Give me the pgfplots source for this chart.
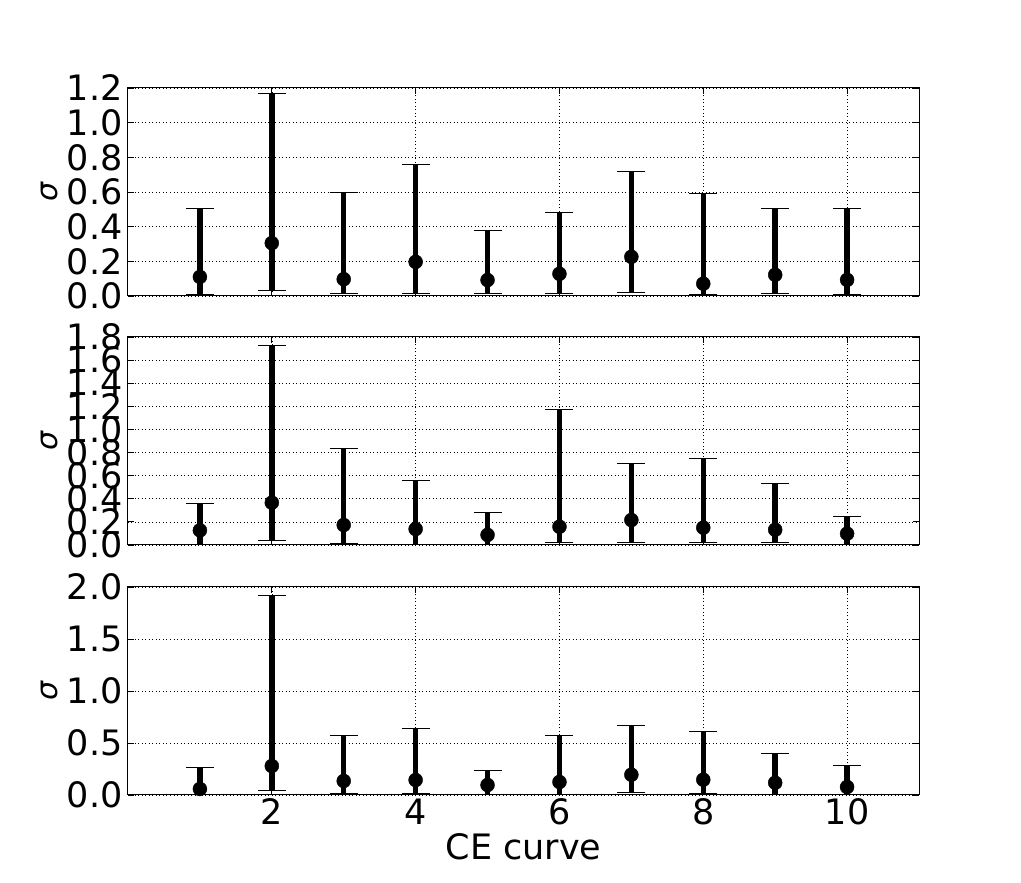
\documentclass[border=0pt]{standalone}
\usepackage{pgfplots}
\pgfplotsset{compat=1.18}
\usepackage{pgfplotstable}
\usepackage{fontspec}
\setmainfont{DejaVu Sans}
\pgfplotstableread{
x y up lo
1 0.110 0.507 0.011
2 0.305 1.168 0.034
3 0.097 0.595 0.016
4 0.197 0.757 0.016
5 0.092 0.381 0.016
6 0.128 0.485 0.017
7 0.226 0.717 0.023
8 0.071 0.590 0.010
9 0.122 0.503 0.017
10 0.093 0.508 0.010
}\topdata
\pgfplotstableread{
x y up lo
1 0.127 0.363 0.009
2 0.366 1.727 0.037
3 0.173 0.833 0.017
4 0.138 0.562 0.009
5 0.087 0.285 0.009
6 0.158 1.176 0.020
7 0.216 0.709 0.020
8 0.150 0.753 0.020
9 0.132 0.536 0.020
10 0.098 0.251 0.009
}\middata
\pgfplotstableread{
x y up lo
1 0.058 0.269 0.010
2 0.279 1.923 0.048
3 0.135 0.570 0.019
4 0.144 0.638 0.019
5 0.096 0.240 0.010
6 0.125 0.570 0.010
7 0.195 0.666 0.022
8 0.147 0.615 0.019
9 0.118 0.397 0.010
10 0.077 0.288 0.010
}\botdata
\pgfplotsset{
  panel/.style={
    anchor=south west,
    width=791pt, height=208pt, scale only axis,
    xmin=0, xmax=11,
    xtick={2,4,6,8,10},
    grid=major,
    major grid style={black, line width=0.6pt, dash pattern=on 1pt off 2.5pt},
    axis line style={black, line width=1pt},
    tick style={black, line width=0.8pt},
    major tick length=6pt,
    tick align=inside,
    xtick pos=both, ytick pos=both,
    /pgf/number format/assume math mode=true,
    yticklabel style={/pgf/number format/fixed, /pgf/number format/fixed zerofill, /pgf/number format/precision=1, xshift=-2pt},
    xticklabel style={/pgf/number format/fixed, /pgf/number format/precision=0},
    ticklabel style={font=\fontsize{35}{38}\selectfont},
    ylabel={\itshape σ},
    every axis y label/.style={at={(-78pt,104pt)}, rotate=90, anchor=center, font=\fontsize{30}{36}\selectfont},
    ymin=0,
  },
  ebar/.style={
    black, only marks, mark=*, mark size=7pt, mark options={fill=black, draw=black},
    error bars/.cd, y dir=both, y explicit,
    error bar style={line width=5.5pt, black},
    error mark options={line width=0.8pt, mark size=14pt, black, rotate=90},
  },
}
\begin{document}
\begin{tikzpicture}
\path[use as bounding box] (0,0) rectangle (1021pt,883pt);
\begin{axis}[panel, at={(128pt,587pt)}, ymax=1.2, ytick={0,0.2,...,1.21}, xticklabels={}]
\addplot[ebar] table[x=x, y=y, y error plus expr=\thisrow{up}-\thisrow{y}, y error minus expr=\thisrow{y}-\thisrow{lo}] {\topdata};
\end{axis}
\begin{axis}[panel, at={(128pt,338pt)}, ymax=1.8, ytick={0,0.2,...,1.81}, xticklabels={}]
\addplot[ebar] table[x=x, y=y, y error plus expr=\thisrow{up}-\thisrow{y}, y error minus expr=\thisrow{y}-\thisrow{lo}] {\middata};
\end{axis}
\begin{axis}[panel, at={(128pt,88pt)}, ymax=2.0, ytick={0,0.5,...,2.01},
  xlabel={CE curve}, xlabel style={font=\fontsize{35}{38}\selectfont, yshift=-2pt}]
\addplot[ebar] table[x=x, y=y, y error plus expr=\thisrow{up}-\thisrow{y}, y error minus expr=\thisrow{y}-\thisrow{lo}] {\botdata};
\end{axis}
\end{tikzpicture}
\end{document}
